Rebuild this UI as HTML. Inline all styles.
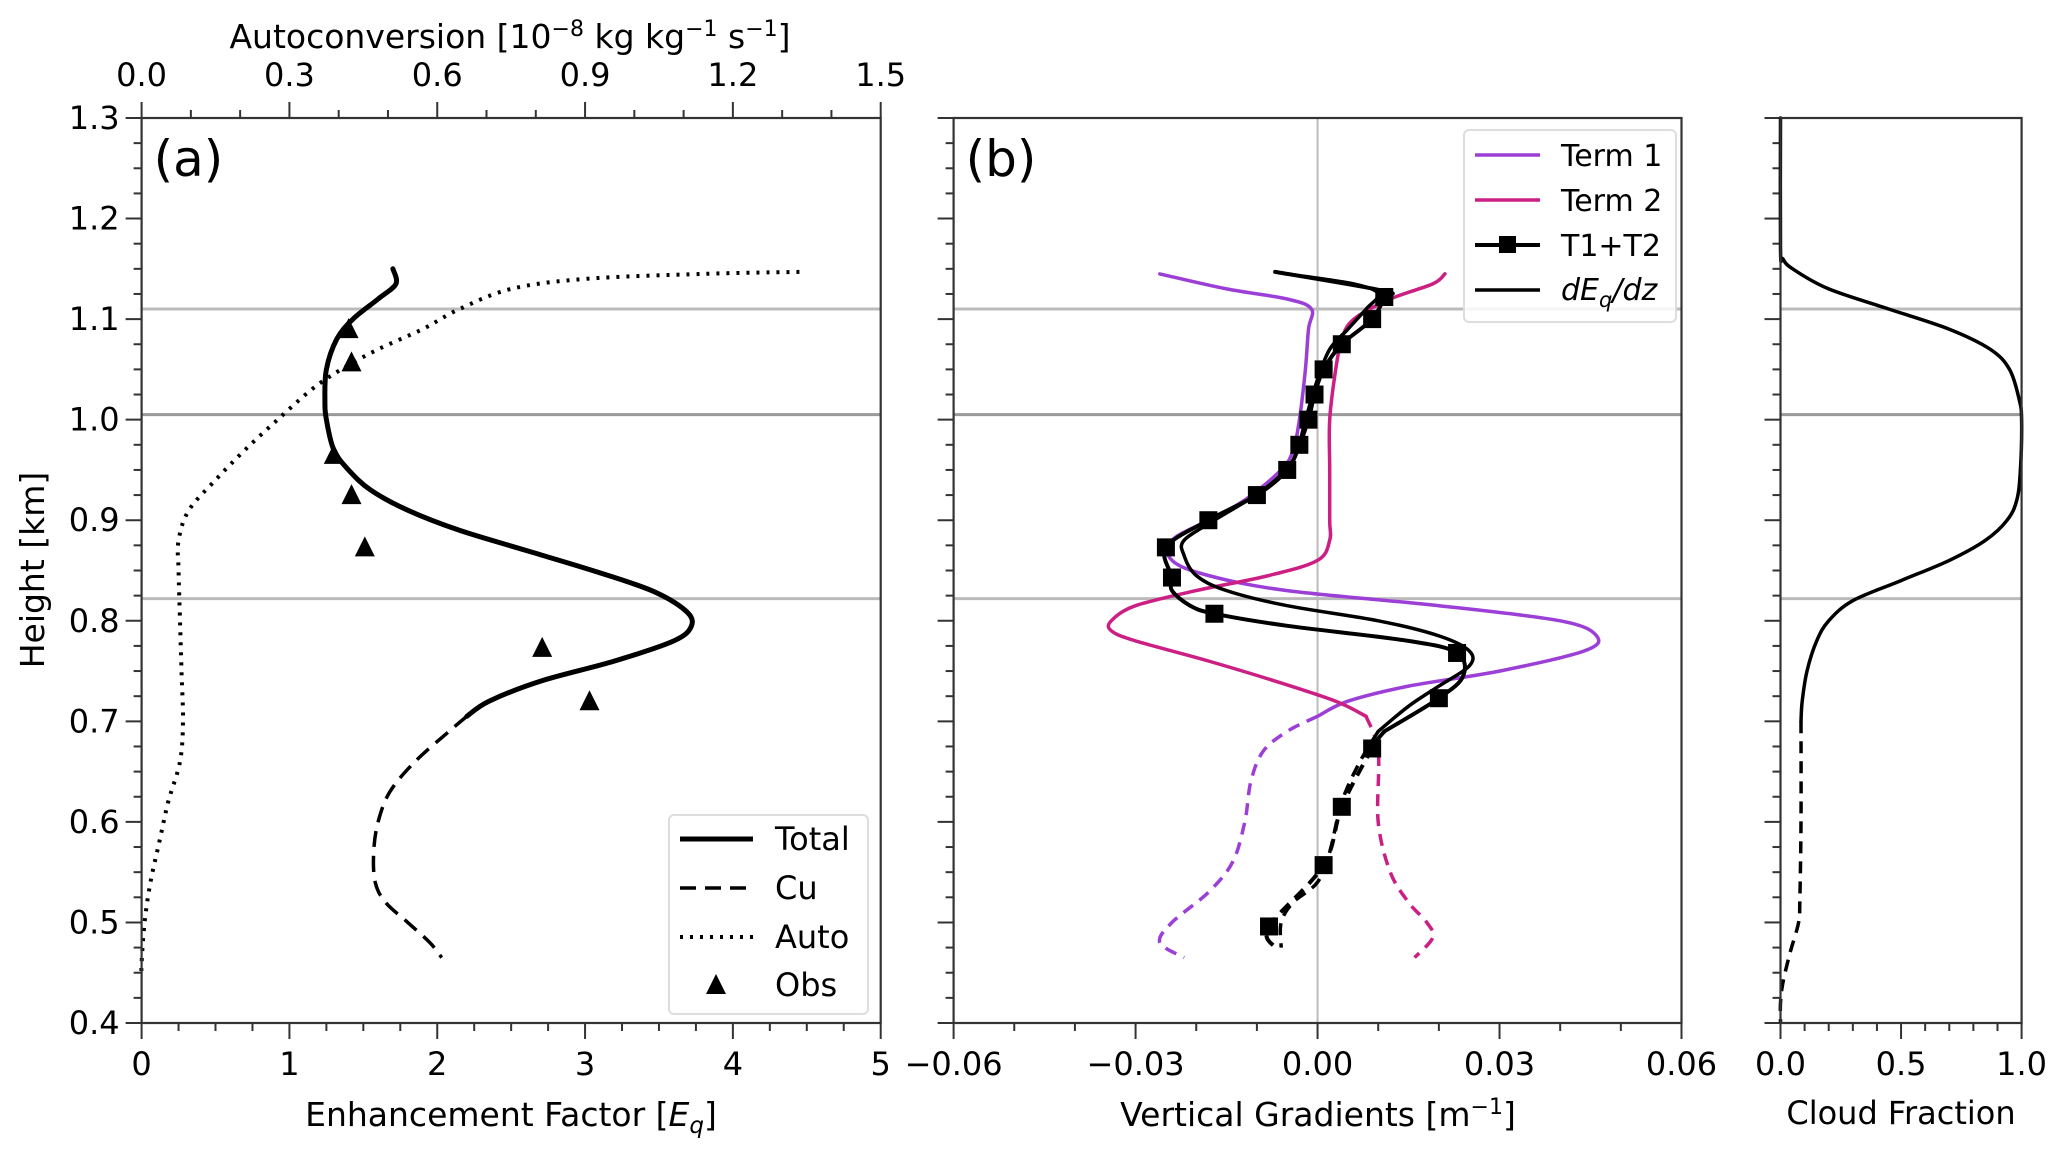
<!DOCTYPE html>
<html><head><meta charset="utf-8"><style>
body{margin:0;background:#fff}
svg{display:block;font-family:"DejaVu Sans","Liberation Sans",sans-serif}
</style></head><body>
<svg id="fig" width="2067" height="1151" viewBox="0 0 2067 1151" xmlns="http://www.w3.org/2000/svg"></svg>
<script>
// ---- data ----
const totalH=[1.15,1.135,1.12,1.10,1.08,1.05,1.02,1.0,0.97,0.95,0.93,0.91,0.89,0.87,0.85,0.83,0.81,0.795,0.78,0.76,0.74,0.72,0.705];
const totalE=[1.70,1.72,1.60,1.43,1.32,1.25,1.24,1.25,1.30,1.40,1.55,1.80,2.15,2.60,3.05,3.45,3.68,3.72,3.60,3.20,2.70,2.35,2.20];
const cuH=[0.705,0.69,0.66,0.63,0.60,0.57,0.54,0.52,0.50,0.48,0.465];
const cuE=[2.20,2.08,1.85,1.68,1.60,1.57,1.58,1.65,1.80,1.95,2.03];
const autoH=[1.147,1.145,1.14,1.13,1.11,1.09,1.07,1.05,1.03,1.0,0.97,0.94,0.91,0.88,0.85,0.80,0.75,0.70,0.66,0.62,0.58,0.54,0.50,0.46,0.445];
const autoV=[1.335,1.14,0.90,0.75,0.645,0.57,0.48,0.405,0.345,0.276,0.21,0.15,0.096,0.075,0.075,0.078,0.081,0.084,0.078,0.054,0.036,0.018,0.006,0.0,0.0];
const obsH=[1.09,1.057,0.965,0.925,0.873,0.773,0.72];
const obsE=[1.40,1.42,1.30,1.42,1.51,2.71,3.03];
const t1H=[1.145,1.13,1.12,1.11,1.09,1.05,1.0,0.97,0.95,0.92,0.90,0.88,0.86,0.845,0.83,0.815,0.80,0.785,0.77,0.75,0.735,0.72,0.705];
const t1G=[-0.026,-0.015,-0.005,-0.001,-0.0015,-0.002,-0.003,-0.004,-0.006,-0.012,-0.018,-0.024,-0.024,-0.018,-0.005,0.020,0.040,0.046,0.044,0.030,0.015,0.005,0.000];
const t1dH=[0.705,0.69,0.67,0.64,0.60,0.56,0.53,0.50,0.48,0.465];
const t1dG=[0.0,-0.005,-0.009,-0.011,-0.012,-0.014,-0.018,-0.024,-0.026,-0.022];
const t2H=[1.145,1.135,1.12,1.10,1.08,1.05,1.0,0.95,0.90,0.88,0.86,0.845,0.83,0.815,0.80,0.79,0.78,0.76,0.74,0.72,0.705];
const t2G=[0.021,0.019,0.012,0.006,0.004,0.003,0.002,0.002,0.002,0.002,0.0,-0.008,-0.020,-0.030,-0.034,-0.034,-0.030,-0.018,-0.007,0.003,0.008];
const t2dH=[0.705,0.67,0.60,0.55,0.52,0.50,0.485,0.465];
const t2dG=[0.008,0.010,0.010,0.012,0.015,0.018,0.019,0.016];
const sumH=[1.147,1.128,1.122,1.10,1.075,1.05,1.025,1.0,0.975,0.95,0.925,0.90,0.873,0.843,0.83,0.815,0.807,0.795,0.78,0.768,0.745,0.723,0.69];
const sumG=[-0.007,0.011,0.011,0.009,0.004,0.001,-0.0005,-0.0015,-0.003,-0.005,-0.010,-0.018,-0.025,-0.024,-0.024,-0.021,-0.017,-0.005,0.015,0.023,0.024,0.020,0.011];
const sumdH=[0.69,0.673,0.615,0.557,0.496,0.475];
const sumdG=[0.011,0.009,0.004,0.001,-0.008,-0.007];
const mkH=[1.122,1.10,1.075,1.05,1.025,1.0,0.975,0.95,0.925,0.90,0.873,0.843,0.807,0.768,0.723,0.673,0.615,0.557,0.496];
const mkG=[0.011,0.009,0.004,0.001,-0.0005,-0.0015,-0.003,-0.005,-0.010,-0.018,-0.025,-0.024,-0.017,0.023,0.020,0.009,0.004,0.001,-0.008];
const dH=[1.145,1.135,1.125,1.11,1.09,1.07,1.04,1.0,0.96,0.93,0.90,0.88,0.865,0.845,0.83,0.815,0.80,0.785,0.77,0.755,0.735,0.715,0.69];
const dG=[-0.005,0.006,0.010,0.008,0.005,0.002,0.0,-0.002,-0.004,-0.009,-0.017,-0.022,-0.022,-0.020,-0.015,-0.005,0.010,0.020,0.025,0.025,0.020,0.015,0.010];
const ddH=[0.69,0.66,0.62,0.57,0.54,0.52,0.50,0.475];
const ddG=[0.010,0.007,0.004,0.002,0.000,-0.004,-0.006,-0.006];
const cfH=[1.30,1.17,1.16,1.15,1.13,1.11,1.09,1.07,1.05,1.02,1.0,0.95,0.92,0.90,0.88,0.86,0.84,0.82,0.80,0.78,0.75,0.72,0.70];
const cfV=[0,0,0.01,0.05,0.2,0.45,0.7,0.87,0.95,0.99,1.0,0.995,0.98,0.94,0.85,0.7,0.5,0.3,0.2,0.15,0.11,0.09,0.085];
const cfdH=[0.70,0.60,0.52,0.50,0.47,0.44,0.42,0.40];
const cfdV=[0.085,0.085,0.08,0.075,0.04,0.01,0.0,0];
const refH=[1.11,1.005,0.822];
const eTicks=[0,1,2,3,4,5];
const aTicks=["0.0","0.3","0.6","0.9","1.2","1.5"];
const hTicks=["0.4","0.5","0.6","0.7","0.8","0.9","1.0","1.1","1.2","1.3"];
const gTicks=["\u22120.06","\u22120.03","0.00","0.03","0.06"];
const cTicks=["0.0","0.5","1.0"];

// ---- axes ----
const Y0=118,Y1=1023;
const y=h=>Y0+(1.3-h)/0.9*(Y1-Y0);
const AX0=141.6,AX1=880.7, BX0=953.6,BX1=1681.5, CX0=1780.5,CX1=2021.6;
const xa=e=>AX0+e/5*(AX1-AX0);
const xau=v=>AX0+v/1.5*(AX1-AX0);
const xb=g=>BX0+(g+0.06)/0.12*(BX1-BX0);
const xc=f=>CX0+f*(CX1-CX0);
const svg=document.getElementById('fig');
const NS='http://www.w3.org/2000/svg';
function mk(tag,attrs,parent){const e=document.createElementNS(NS,tag);for(const k in attrs)e.setAttribute(k,attrs[k]);(parent||svg).appendChild(e);return e;}
function ln(x1,y1,x2,y2,st,w){return mk('line',{x1,y1,x2,y2,stroke:st,'stroke-width':w});}
function txt(x,yy,s,size,anchor,extra){const t=mk('text',Object.assign({x,y:yy,'font-size':size,'text-anchor':anchor||'middle',fill:'#000'},extra||{}));t.textContent=s;return t;}
function path(xs,hs,fx,col,w,dash,name){
 const P=xs.map((v,i)=>[fx(v),y(hs[i])]);
 let d='M'+P[0][0].toFixed(1)+','+P[0][1].toFixed(1);
 for(let i=0;i<P.length-1;i++){const p0=P[Math.max(0,i-1)],p1=P[i],p2=P[i+1],p3=P[Math.min(P.length-1,i+2)];
  const c1=[p1[0]+(p2[0]-p0[0])/6,p1[1]+(p2[1]-p0[1])/6],c2=[p2[0]-(p3[0]-p1[0])/6,p2[1]-(p3[1]-p1[1])/6];
  d+='C'+c1.map(v=>v.toFixed(1)).join(',')+' '+c2.map(v=>v.toFixed(1)).join(',')+' '+p2.map(v=>v.toFixed(1)).join(',');}
 const p=mk('path',{d,fill:'none',stroke:col,'stroke-width':w,'stroke-linejoin':'round','stroke-linecap':dash?'butt':'round'});if(dash)p.setAttribute('stroke-dasharray',dash);
 
 
 return p;}

// reference lines
[[AX0,AX1],[BX0,BX1],[CX0,CX1]].forEach(r=>refH.forEach((h,i)=>{const l=ln(r[0],y(h),r[1],y(h),i==1?'#999':'#bbb',3);
 
 }));
const zl=ln(xb(0),Y0,xb(0),Y1,'#bbb',2);



// y ticks
[AX0,BX0,CX0].forEach((x0,pi)=>{for(let k=0;k<=36;k++){const h=0.4+k*0.025;const maj=k%4==0;ln(x0,y(h),x0-(maj?16:8),y(h),'#333',2);
 if(maj&&pi==0){const t=txt(x0-22,y(h)+11,hTicks[k/4],32,'end');
 
 }}});
for(let k=0;k<=20;k++){const e=k*0.25;ln(xa(e),Y1,xa(e),Y1+(k%4==0?16:8),'#333',2);}
eTicks.forEach(e=>{const t=txt(xa(e),Y1+52,String(e),32);
 
 });
for(let k=0;k<=15;k++){const v=k*0.1;ln(xau(v),Y0,xau(v),Y0-(k%3==0?16:8),'#333',2);}
aTicks.forEach((s,i)=>{const t=txt(xau(i*0.3),86,s,32);
 
 });
for(let k=0;k<=12;k++){const g=-0.06+k*0.01;ln(xb(g),Y1,xb(g),Y1+(k%3==0?16:8),'#333',2);}
gTicks.forEach((s,i)=>{const t=txt(xb(-0.06+i*0.03),Y1+52,s,32);
 
 });
for(let k=0;k<=10;k++){const f=k*0.1;ln(xc(f),Y1,xc(f),Y1+(k%5==0?16:8),'#333',2);}
cTicks.forEach((s,i)=>{const t=txt(xc(i*0.5),Y1+52,s,32);
 
 });

// panel a series
path(autoV,autoH,xau,'#000',4,'3,7','auto-line');
path(cuE,cuH,xa,'#000',3.5,'16,9','cu-line');
path(totalE,totalH,xa,'#000',5,null,'total-line');
obsE.forEach((e,i)=>{const cx=xa(e),cy=y(obsH[i]);const p=mk('polygon',{points:`${cx-10},${cy+9} ${cx+10},${cy+9} ${cx},${cy-11}`,fill:'#000'});
 
 });

// panel b series
const PUR='#9b3fd6',MAG='#cc1f84';
path(t1G,t1H,xb,PUR,3.5,null,'term1-line');
path(t1dG,t1dH,xb,PUR,3.5,'12,8','term1-dashed');
path(t2G,t2H,xb,MAG,3.5,null,'term2-line');
path(t2dG,t2dH,xb,MAG,3.5,'12,8','term2-dashed');
path(dG,dH,xb,'#000',3.5,null,'deqdz-line');
path(ddG,ddH,xb,'#000',3.5,'12,8','deqdz-dashed');
path(sumG,sumH,xb,'#000',4,null,'t1t2-line');
path(sumdG,sumdH,xb,'#000',4,'12,8','t1t2-dashed');
mkG.forEach((g,i)=>{const r=mk('rect',{x:xb(g)-9,y:y(mkH[i])-9,width:18,height:18,fill:'#000'});
 
 });

// panel c
path(cfV,cfH,xc,'#000',3.5,null,'cloud-fraction-line');
path(cfdV,cfdH,xc,'#000',3.5,'12,8','cloud-fraction-dashed');

// spines
[[AX0,AX1],[BX0,BX1],[CX0,CX1]].forEach(r=>{const s=mk('rect',{x:r[0],y:Y0,width:r[1]-r[0],height:Y1-Y0,fill:'none',stroke:'#333','stroke-width':2.2});
 
 });

// labels
let t;
t=txt(AX0+12,Y0+58,'(a)',50,'start');


t=txt(BX0+12,Y0+58,'(b)',50,'start');


t=mk('text',{x:510,y:48,'font-size':33,'text-anchor':'middle'});
t.innerHTML='Autoconversion [10<tspan dy="-12" font-size="22">\u22128</tspan><tspan dy="12"> kg kg</tspan><tspan dy="-12" font-size="22">\u22121</tspan><tspan dy="12"> s</tspan><tspan dy="-12" font-size="22">\u22121</tspan><tspan dy="12">]</tspan>';


t=mk('text',{x:511,y:1126,'font-size':33,'text-anchor':'middle'});
t.innerHTML='Enhancement Factor [<tspan font-style="italic">E</tspan><tspan font-style="italic" font-size="23" dy="7">q</tspan><tspan dy="-7">]</tspan>';


t=mk('text',{x:1318,y:1126,'font-size':33,'text-anchor':'middle'});
t.innerHTML='Vertical Gradients [m<tspan dy="-12" font-size="22">\u22121</tspan><tspan dy="12">]</tspan>';


t=txt(1901,1124,'Cloud Fraction',32);


t=txt(0,0,'Height [km]',33,'middle',{transform:'translate(44,570) rotate(-90)'});



// legend a
const lgA=mk('g',{});


mk('rect',{x:669,y:815,width:199,height:199,rx:5,fill:'#fff','fill-opacity':0.85,stroke:'#ddd','stroke-width':2},lgA);
const la=[['Total','',5],['Cu','16,9',3.5],['Auto','3,7',4]];
la.forEach((o,i)=>{const yy=839+i*49;const l=ln(680,yy,753,yy,'#000',o[2]);lgA.appendChild(l);if(o[1])l.setAttribute('stroke-dasharray',o[1]);
 const tt=txt(775,yy+11,o[0],32,'start');lgA.appendChild(tt);
 
 });
mk('polygon',{points:'706,994 726,994 716,974',fill:'#000'},lgA);
t=txt(775,996,'Obs',32,'start');lgA.appendChild(t);



// legend b
const lgB=mk('g',{});


mk('rect',{x:1464,y:130,width:212,height:192,rx:5,fill:'#fff','fill-opacity':0.85,stroke:'#ddd','stroke-width':2},lgB);
const lb=[['Term 1',PUR],['Term 2',MAG],['T1+T2','#000'],['','#000']];
lb.forEach((o,i)=>{const yy=155+i*45;lgB.appendChild(ln(1475,yy,1540,yy,o[1],i==2?4:3.5));
 if(o[0]){const tt=txt(1561,yy+11,o[0],30,'start');lgB.appendChild(tt);
 
 }});
mk('rect',{x:1499,y:236,width:17,height:17,fill:'#000'},lgB);
t=mk('text',{x:1561,y:300,'font-size':30,'font-style':'italic'},lgB);
t.innerHTML='dE<tspan font-size="21" dy="7">q</tspan><tspan dy="-7">/dz</tspan>';


</script>
</body></html>
